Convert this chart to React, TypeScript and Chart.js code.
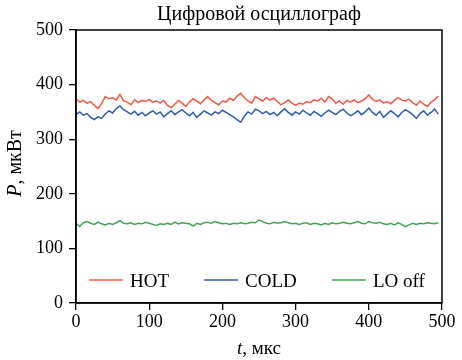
import React, { useEffect, useRef } from "react";
import { Chart, registerables } from "chart.js";

Chart.register(...registerables);

const TITLE = "Цифровой осциллограф";
const X_TITLE_ITALIC = "t";
const X_TITLE_REST = ", мкс";
const Y_TITLE_ITALIC = "P";
const Y_TITLE_REST = ", мкВт";
const SERIES_NAMES = ["HOT", "COLD", "LO off"];
const SERIES_COLORS = ["#ef5b45", "#2f5dac", "#45a455"];

const TIME = [
  0, 5, 10, 15, 20, 25, 30, 35, 40, 45, 50, 55, 60, 65, 70, 75, 80, 85, 90, 95,
  100, 105, 110, 115, 120, 125, 130, 135, 140, 145, 150, 155, 160, 165, 170, 175, 180, 185, 190, 195,
  200, 205, 210, 215, 220, 225, 230, 235, 240, 245, 250, 255, 260, 265, 270, 275, 280, 285, 290, 295,
  300, 305, 310, 315, 320, 325, 330, 335, 340, 345, 350, 355, 360, 365, 370, 375, 380, 385, 390, 395,
  400, 405, 410, 415, 420, 425, 430, 435, 440, 445, 450, 455, 460, 465, 470, 475, 480, 485, 490, 495,
];

const HOT = [
  374, 368, 371, 366, 369, 362, 356, 365, 378, 374, 376, 372, 382, 370, 368, 363, 372, 367, 371, 369,
  373, 368, 370, 366, 371, 362, 358, 364, 371, 366, 360, 368, 374, 370, 365, 372, 378, 371, 367, 363,
  370, 368, 375, 371, 379, 384, 376, 370, 366, 378, 374, 370, 376, 372, 375, 369, 363, 367, 372, 366,
  362, 366, 364, 369, 367, 372, 370, 375, 368, 378, 374, 366, 370, 364, 371, 368, 372, 367, 370, 374,
  381, 373, 369, 372, 366, 369, 365, 371, 376, 372, 370, 373, 367, 362, 370, 364, 360, 368, 372, 379,
];

const COLD = [
  345, 350, 344, 347, 340, 336, 341, 338, 346, 352, 348, 356, 361, 354, 350, 346, 351, 344, 349, 343,
  348, 352, 346, 350, 341, 347, 352, 345, 350, 354, 348, 343, 349, 340, 346, 352, 348, 344, 350, 347,
  353, 349, 345, 341, 336, 331, 342, 350, 346, 355, 352, 347, 351, 345, 349, 343, 350, 356, 349, 344,
  350, 346, 353, 348, 344, 351, 347, 342, 348, 353, 349, 345, 351, 355, 348, 343, 347, 352, 345, 350,
  357, 349, 344, 351, 340, 346, 352, 347, 341, 349, 354, 350, 345, 338, 347, 352, 344, 349, 355, 346,
];

const LO_OFF = [
  146, 140, 147, 149, 146, 144, 148, 145, 143, 146, 144, 147, 151, 146, 145, 147, 144, 146, 145, 148,
  146, 144, 142, 145, 144, 146, 144, 148, 145, 147, 146, 145, 141, 146, 144, 147, 148, 146, 149, 147,
  145, 146, 144, 146, 145, 147, 145, 146, 148, 147, 152, 149, 146, 145, 148, 146, 147, 149, 147, 145,
  146, 144, 146, 147, 144, 146, 145, 143, 146, 144, 147, 145, 146, 148, 146, 145, 147, 149, 146, 145,
  149, 147, 146, 148, 145, 144, 146, 143, 147, 144, 140, 143, 146, 144, 146, 145, 147, 146, 145, 147,
];

const X_TICKS = [0, 100, 200, 300, 400, 500];
const Y_TICKS = [0, 100, 200, 300, 400, 500];

const FONT = "'Liberation Serif', 'Times New Roman', serif";

const overlay = {
  id: "overlay",
  afterDraw(chart: any) {
    const { ctx, chartArea } = chart;
    const { left, right, top, bottom } = chartArea;
    ctx.save();
    // frame
    ctx.strokeStyle = "#000";
    ctx.lineWidth = 1.5;
    ctx.strokeRect(left, top, right - left, bottom - top);

    ctx.fillStyle = "#000";
    // title
    ctx.font = `20px ${FONT}`;
    ctx.textAlign = "center";
    ctx.textBaseline = "alphabetic";
    ctx.fillText(TITLE, (left + right) / 2, top - 10);

    // x title
    const cx = (left + right) / 2;
    ctx.font = `italic 19px ${FONT}`;
    const wi = ctx.measureText(X_TITLE_ITALIC).width;
    ctx.font = `19px ${FONT}`;
    const wr = ctx.measureText(X_TITLE_REST).width;
    const sx = cx - (wi + wr) / 2;
    ctx.textAlign = "left";
    ctx.font = `italic 19px ${FONT}`;
    ctx.fillText(X_TITLE_ITALIC, sx, bottom + 51);
    ctx.font = `19px ${FONT}`;
    ctx.fillText(X_TITLE_REST, sx + wi, bottom + 51);

    // y title
    ctx.save();
    ctx.translate(21, (top + bottom) / 2 - 3);
    ctx.rotate(-Math.PI / 2);
    ctx.font = `italic 20px ${FONT}`;
    const yi = ctx.measureText(Y_TITLE_ITALIC).width;
    ctx.font = `20px ${FONT}`;
    const yr = ctx.measureText(Y_TITLE_REST).width;
    const ys = -(yi + yr) / 2;
    ctx.font = `italic 20px ${FONT}`;
    ctx.fillText(Y_TITLE_ITALIC, ys, 0);
    ctx.font = `20px ${FONT}`;
    ctx.fillText(Y_TITLE_REST, ys + yi, 0);
    ctx.restore();

    // legend
    const legendX = [left + 13, left + 128, left + 256];
    const ly = bottom - 23;
    ctx.font = `19px ${FONT}`;
    ctx.textAlign = "left";
    chart.data.datasets.forEach((ds: any, i: number) => {
      const x0 = legendX[i];
      ctx.strokeStyle = ds.borderColor;
      ctx.lineWidth = 1.3;
      ctx.beginPath();
      ctx.moveTo(x0, ly);
      ctx.lineTo(x0 + 34, ly);
      ctx.stroke();
      ctx.fillStyle = "#000";
      ctx.fillText(ds.label, x0 + 41, ly + 7);
    });
    ctx.restore();
  },
};

export default function App() {
  const ref = useRef<HTMLCanvasElement | null>(null);

  useEffect(() => {
    document.body.style.margin = "0";
    const canvas = ref.current!;
    const series = [HOT, COLD, LO_OFF];
    const chart = new Chart(canvas, {
      type: "line",
      data: {
        datasets: series.map((arr, i) => ({
          label: SERIES_NAMES[i],
          data: arr.map((v, j) => ({ x: TIME[j], y: v })),
          borderColor: SERIES_COLORS[i],
          borderWidth: 1.5,
          pointRadius: 0,
          tension: 0,
          fill: false,
        })),
      },
      options: {
        responsive: false,
        animation: false,
        devicePixelRatio: 1,
        layout: { padding: { top: 30, right: 20, left: 0, bottom: 0 } },
        plugins: {
          legend: { display: false },
          title: { display: false },
          tooltip: { enabled: false },
        },
        scales: {
          x: {
            type: "linear",
            min: 0,
            max: 500,
            afterBuildTicks: (s: any) => {
              s.ticks = X_TICKS.map((v) => ({ value: v }));
            },
            afterFit: (s: any) => {
              s.height = 57;
            },
            ticks: {
              color: "#000",
              font: { family: FONT, size: 18 },
              padding: 1,
              maxRotation: 0,
            },
            grid: {
              drawOnChartArea: false,
              drawTicks: true,
              tickLength: 7,
              color: "#000",
              lineWidth: 1.3,
            },
            border: { display: true, color: "#000", width: 1.5 },
          },
          y: {
            type: "linear",
            min: 0,
            max: 500,
            afterBuildTicks: (s: any) => {
              s.ticks = Y_TICKS.map((v) => ({ value: v }));
            },
            afterFit: (s: any) => {
              s.width = 76;
            },
            ticks: {
              color: "#000",
              font: { family: FONT, size: 18 },
              padding: 6,
            },
            grid: {
              drawOnChartArea: false,
              drawTicks: true,
              tickLength: 7,
              color: "#000",
              lineWidth: 1.3,
            },
            border: { display: true, color: "#000", width: 1.5 },
          },
        },
      },
      plugins: [overlay],
    });
    return () => chart.destroy();
  }, []);

  return (
    <div style={{ width: 462, height: 360, background: "#fff" }}>
      <canvas ref={ref} width={462} height={360} style={{ display: "block" }} />
    </div>
  );
}
